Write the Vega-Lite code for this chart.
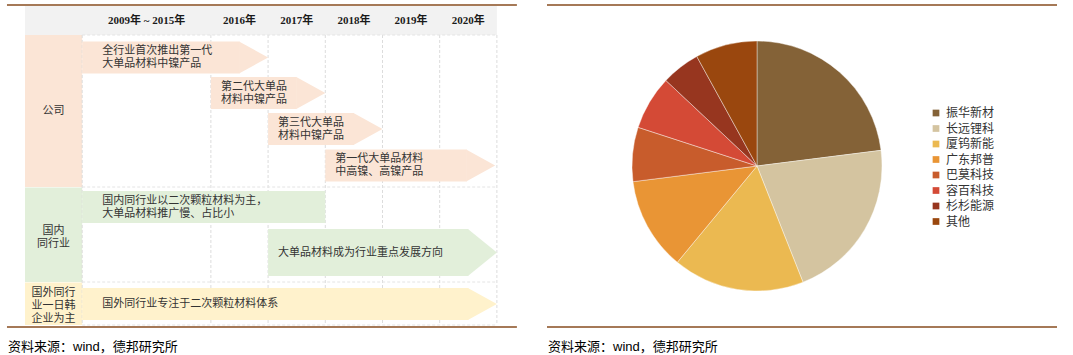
{
  "$schema": "https://vega.github.io/schema/vega-lite/v6.json",
  "padding": 0,
  "spacing": 0,
  "background": "#ffffff",
  "config": {"view": {"stroke": null}, "axis": {"disable": true}},
  "resolve": {"scale": {"color": "independent"}, "legend": {"color": "independent"}},
  "datasets": {
    "cells": [
      {"group": "表头", "x0": 0, "x1": 8.25, "y0": 6, "y1": 35},
      {"group": "公司", "x0": 0, "x1": 1, "y0": 35, "y1": 187},
      {"group": "国内", "x0": 0, "x1": 1, "y0": 187.5, "y1": 282},
      {"group": "国外", "x0": 0, "x1": 1, "y0": 282.5, "y1": 325}
    ],
    "vlines": [{"x": 1}, {"x": 3.25}, {"x": 4.25}, {"x": 5.25}, {"x": 6.25}, {"x": 7.25}, {"x": 8.25}],
    "hlines": [{"y": 35}, {"y": 187}, {"y": 282}, {"y": 325}],
    "headers": [
      {"label": "2009年 ~ 2015年", "c": 2.125},
      {"label": "2016年", "c": 3.75},
      {"label": "2017年", "c": 4.75},
      {"label": "2018年", "c": 5.75},
      {"label": "2019年", "c": 6.75},
      {"label": "2020年", "c": 7.75}
    ],
    "bars": [
      {"group": "公司", "text": ["全行业首次推出第一代", "大单品材料中镍产品"], "start": 1, "end": 4.25, "lane": 57.5, "head": true, "big": false},
      {"group": "公司", "text": ["第二代大单品", "材料中镍产品"], "start": 3.25, "end": 5.25, "lane": 93, "head": true, "big": false},
      {"group": "公司", "text": ["第三代大单品", "材料中镍产品"], "start": 4.25, "end": 6.25, "lane": 129, "head": true, "big": false},
      {"group": "公司", "text": ["第一代大单品材料", "中高镍、高镍产品"], "start": 5.25, "end": 8.22, "lane": 165.5, "head": true, "big": false},
      {"group": "国内", "text": ["国内同行业以二次颗粒材料为主，", "大单品材料推广慢、占比小"], "start": 1, "end": 5.25, "lane": 207, "head": false, "big": false},
      {"group": "国内", "text": ["大单品材料成为行业重点发展方向"], "start": 4.25, "end": 8.25, "lane": 252.5, "head": true, "big": true},
      {"group": "国外", "text": ["国外同行业专注于二次颗粒材料体系"], "start": 1, "end": 8.25, "lane": 304, "head": true, "big": false}
    ],
    "sections": [
      {"text": ["公司"], "yc": 111},
      {"text": ["国内", "同行业"], "yc": 237},
      {"text": ["国外同行", "业一日韩", "企业为主"], "yc": 306}
    ],
    "frame": [{"y": 5}, {"y": 327}],
    "source": [{"text": "资料来源：wind，德邦研究所"}],
    "pie": [
      {"company": "振华新材", "share": 23},
      {"company": "长远锂科", "share": 21},
      {"company": "厦钨新能", "share": 17},
      {"company": "广东邦普", "share": 12},
      {"company": "巴莫科技", "share": 7},
      {"company": "容百科技", "share": 7},
      {"company": "杉杉能源", "share": 5},
      {"company": "其他", "share": 8}
    ]
  },
  "hconcat": [
    {
      "width": 530,
      "height": 355,
      "layer": [
        {
          "data": {"name": "cells"},
          "mark": {"type": "rect"},
          "encoding": {
            "x": {"field": "x0", "type": "quantitative", "scale": {"domain": [-0.437, 8.829], "nice": false, "zero": false, "padding": 0}},
            "x2": {"field": "x1"},
            "y": {"field": "y0", "type": "quantitative", "scale": {"domain": [0, 355], "nice": false, "zero": false, "reverse": true, "padding": 0}},
            "y2": {"field": "y1"},
            "color": {"field": "group", "type": "nominal", "legend": null,
              "scale": {"domain": ["表头", "公司", "国内", "国外"], "range": ["#f2f2f2", "#fbe5d6", "#e2efda", "#fff2cc"]}}
          }
        },
        {
          "data": {"name": "vlines"},
          "mark": {"type": "rule", "color": "#dcdcdc", "strokeDash": [3, 2], "strokeWidth": 1},
          "encoding": {
            "x": {"field": "x", "type": "quantitative", "scale": {"domain": [-0.437, 8.829], "nice": false, "zero": false, "padding": 0}},
            "y": {"datum": 35, "type": "quantitative", "scale": {"domain": [0, 355], "nice": false, "zero": false, "reverse": true, "padding": 0}},
            "y2": {"datum": 325}
          }
        },
        {
          "data": {"name": "hlines"},
          "mark": {"type": "rule", "color": "#e4e4e4", "strokeDash": [3, 2], "strokeWidth": 1},
          "encoding": {
            "y": {"field": "y", "type": "quantitative", "scale": {"domain": [0, 355], "nice": false, "zero": false, "reverse": true, "padding": 0}},
            "x": {"datum": 1, "type": "quantitative", "scale": {"domain": [-0.437, 8.829], "nice": false, "zero": false, "padding": 0}},
            "x2": {"datum": 8.25}
          }
        },
        {
          "data": {"name": "headers"},
          "mark": {"type": "text", "font": "Liberation Serif, Noto Sans CJK SC", "fontWeight": "bold", "fontSize": 11, "color": "#1a1a1a", "align": "center", "baseline": "middle"},
          "encoding": {
            "x": {"field": "c", "type": "quantitative", "scale": {"domain": [-0.437, 8.829], "nice": false, "zero": false, "padding": 0}},
            "y": {"datum": 20.5, "type": "quantitative", "scale": {"domain": [0, 355], "nice": false, "zero": false, "reverse": true, "padding": 0}},
            "text": {"field": "label"}
          }
        },
        {
          "data": {"name": "bars"},
          "transform": [{"filter": "datum.head"}],
          "mark": {"type": "bar", "x2Offset": -28.5},
          "encoding": {
            "x": {"field": "start", "type": "quantitative", "scale": {"domain": [-0.437, 8.829], "nice": false, "zero": false, "padding": 0}},
            "x2": {"field": "end"},
            "y": {"field": "lane", "type": "quantitative", "scale": {"domain": [0, 355], "nice": false, "zero": false, "reverse": true, "padding": 0}},
            "size": {"condition": {"test": "datum.big", "value": 47}, "value": 32},
            "color": {"field": "group", "type": "nominal", "legend": null,
              "scale": {"domain": ["表头", "公司", "国内", "国外"], "range": ["#f2f2f2", "#fbe5d6", "#e2efda", "#fff2cc"]}}
          }
        },
        {
          "data": {"name": "bars"},
          "transform": [{"filter": "!datum.head"}],
          "mark": {"type": "bar"},
          "encoding": {
            "x": {"field": "start", "type": "quantitative", "scale": {"domain": [-0.437, 8.829], "nice": false, "zero": false, "padding": 0}},
            "x2": {"field": "end"},
            "y": {"field": "lane", "type": "quantitative", "scale": {"domain": [0, 355], "nice": false, "zero": false, "reverse": true, "padding": 0}},
            "size": {"value": 32},
            "color": {"field": "group", "type": "nominal", "legend": null,
              "scale": {"domain": ["表头", "公司", "国内", "国外"], "range": ["#f2f2f2", "#fbe5d6", "#e2efda", "#fff2cc"]}}
          }
        },
        {
          "data": {"name": "bars"},
          "transform": [{"filter": "datum.head"}],
          "mark": {"type": "point", "filled": true, "opacity": 1, "xOffset": -29, "strokeWidth": 0},
          "encoding": {
            "x": {"field": "end", "type": "quantitative", "scale": {"domain": [-0.437, 8.829], "nice": false, "zero": false, "padding": 0}},
            "y": {"field": "lane", "type": "quantitative", "scale": {"domain": [0, 355], "nice": false, "zero": false, "reverse": true, "padding": 0}},
            "size": {"condition": {"test": "datum.big", "value": 2209}, "value": 1024},
            "shape": {"condition": {"test": "datum.big", "value": "M0,-1L1.234,0L0,1Z"}, "value": "M0,-1L1.8125,0L0,1Z"},
            "color": {"field": "group", "type": "nominal", "legend": null,
              "scale": {"domain": ["表头", "公司", "国内", "国外"], "range": ["#f2f2f2", "#fbe5d6", "#e2efda", "#fff2cc"]}}
          }
        },
        {
          "data": {"name": "bars"},
          "transform": [
            {"flatten": ["text"], "as": ["line"]},
            {"window": [{"op": "row_number", "as": "li"}], "groupby": ["lane"]},
            {"joinaggregate": [{"op": "count", "as": "n"}], "groupby": ["lane"]}
          ],
          "mark": {"type": "text", "font": "Noto Sans CJK SC", "fontSize": 11, "color": "#333333", "align": "left", "baseline": "middle",
            "dx": {"expr": "datum.start === 1 ? 20 : 10"},
            "dy": {"expr": "(datum.li - (datum.n + 1) / 2) * 13"}},
          "encoding": {
            "x": {"field": "start", "type": "quantitative", "scale": {"domain": [-0.437, 8.829], "nice": false, "zero": false, "padding": 0}},
            "y": {"field": "lane", "type": "quantitative", "scale": {"domain": [0, 355], "nice": false, "zero": false, "reverse": true, "padding": 0}},
            "text": {"field": "line"}
          }
        },
        {
          "data": {"name": "sections"},
          "transform": [
            {"flatten": ["text"], "as": ["line"]},
            {"window": [{"op": "row_number", "as": "li"}], "groupby": ["yc"]},
            {"joinaggregate": [{"op": "count", "as": "n"}], "groupby": ["yc"]}
          ],
          "mark": {"type": "text", "font": "Noto Sans CJK SC", "fontSize": 11, "color": "#333333", "align": "center", "baseline": "middle",
            "dy": {"expr": "(datum.li - (datum.n + 1) / 2) * 13"}},
          "encoding": {
            "x": {"datum": 0.5, "type": "quantitative", "scale": {"domain": [-0.437, 8.829], "nice": false, "zero": false, "padding": 0}},
            "y": {"field": "yc", "type": "quantitative", "scale": {"domain": [0, 355], "nice": false, "zero": false, "reverse": true, "padding": 0}},
            "text": {"field": "line"}
          }
        },
        {
          "data": {"name": "frame"},
          "mark": {"type": "rule", "color": "#a57957", "strokeWidth": 2},
          "encoding": {
            "y": {"field": "y", "type": "quantitative", "scale": {"domain": [0, 355], "nice": false, "zero": false, "reverse": true, "padding": 0}},
            "x": {"datum": -0.315, "type": "quantitative", "scale": {"domain": [-0.437, 8.829], "nice": false, "zero": false, "padding": 0}},
            "x2": {"datum": 8.6}
          }
        },
        {
          "data": {"name": "source"},
          "mark": {"type": "text", "font": "Liberation Sans, Noto Sans CJK SC", "fontSize": 13, "color": "#000000", "align": "left", "baseline": "middle"},
          "encoding": {
            "x": {"datum": -0.297, "type": "quantitative", "scale": {"domain": [-0.437, 8.829], "nice": false, "zero": false, "padding": 0}},
            "y": {"datum": 347, "type": "quantitative", "scale": {"domain": [0, 355], "nice": false, "zero": false, "reverse": true, "padding": 0}},
            "text": {"field": "text"}
          }
        }
      ]
    },
    {
      "width": 454,
      "height": 332,
      "layer": [
        {
          "data": {"name": "pie"},
          "transform": [{"window": [{"op": "row_number", "as": "idx"}]}],
          "mark": {"type": "arc", "radius": 125, "stroke": "#ffffff", "strokeWidth": 0.4},
          "encoding": {
            "theta": {"field": "share", "type": "quantitative"},
            "order": {"field": "idx", "type": "quantitative"},
            "color": {"field": "company", "type": "nominal",
              "scale": {"domain": ["振华新材", "长远锂科", "厦钨新能", "广东邦普", "巴莫科技", "容百科技", "杉杉能源", "其他"],
                "range": ["#846237", "#d4c4a0", "#ebb951", "#e99535", "#c85c2c", "#d44a36", "#97361f", "#9a470e"]},
              "legend": {"orient": "none", "legendX": 400, "legendY": 107, "title": null, "symbolType": "square", "symbolSize": 45,
                "symbolStrokeWidth": 0, "labelFontSize": 12, "labelFont": "Noto Sans CJK SC", "labelColor": "#333333",
                "rowPadding": 3.5, "labelOffset": 4, "padding": 0}}
          }
        },
        {
          "data": {"name": "frame"},
          "mark": {"type": "rule", "color": "#a57957", "strokeWidth": 2},
          "encoding": {
            "y": {"field": "y", "type": "quantitative", "scale": {"domain": [0, 332], "nice": false, "zero": false, "reverse": true, "padding": 0}},
            "x": {"datum": 17, "type": "quantitative", "scale": {"domain": [0, 454], "nice": false, "zero": false, "padding": 0}},
            "x2": {"datum": 527}
          }
        },
        {
          "data": {"name": "source"},
          "mark": {"type": "text", "font": "Liberation Sans, Noto Sans CJK SC", "fontSize": 13, "color": "#000000", "align": "left", "baseline": "middle"},
          "encoding": {
            "x": {"datum": 18, "type": "quantitative", "scale": {"domain": [0, 454], "nice": false, "zero": false, "padding": 0}},
            "y": {"datum": 347, "type": "quantitative", "scale": {"domain": [0, 332], "nice": false, "zero": false, "reverse": true, "padding": 0}},
            "text": {"field": "text"}
          }
        }
      ]
    }
  ]
}
